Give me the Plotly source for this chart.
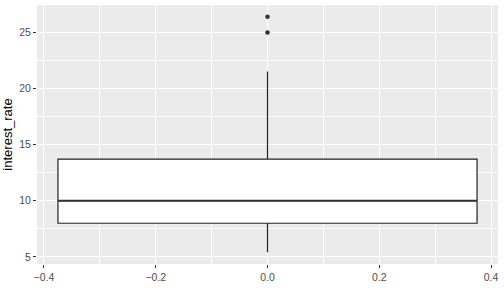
import plotly.graph_objects as go

# Data (interest_rate boxplot)
box_x = [0.0]
q1 = [8.0]
median = [10.0]
q3 = [13.7]
lower_fence = [5.42]
upper_fence = [21.5]
outliers = [24.97, 26.37]
box_width = 0.75

x_ticks = [-0.4, -0.2, 0.0, 0.2, 0.4]
y_ticks = [5, 10, 15, 20, 25]

dark = "#333333"

fig = go.Figure()
fig.add_trace(go.Box(
    x=box_x, q1=q1, median=median, q3=q3,
    lowerfence=lower_fence, upperfence=upper_fence,
    width=box_width, whiskerwidth=0,
    fillcolor="white", line=dict(color="#222222", width=1.2),
    boxpoints=False, showlegend=False, hoverinfo="skip",
))
# thicker median line as in ggplot2
fig.add_trace(go.Scatter(
    x=[box_x[0] - box_width / 2, box_x[0] + box_width / 2],
    y=[median[0], median[0]], mode="lines",
    line=dict(color=dark, width=2), showlegend=False, hoverinfo="skip",
))
fig.add_trace(go.Scatter(
    x=[box_x[0]] * len(outliers), y=outliers, mode="markers",
    marker=dict(color=dark, size=4.5), showlegend=False, hoverinfo="skip",
))

lo = min(lower_fence[0], min(outliers))
hi = max(upper_fence[0], max(outliers))
pad = 0.05 * (hi - lo)
xr = box_width * 1.1 / 2

fig.update_layout(
    width=504, height=288,
    margin=dict(l=34, r=6, t=5, b=21),
    paper_bgcolor="white", plot_bgcolor="#EBEBEB",
    font=dict(family="Liberation Sans, Arial, sans-serif"),
    xaxis=dict(
        range=[-xr, xr], tickvals=x_ticks, tickformat=".1f",
        showgrid=True, gridcolor="white", gridwidth=1.1,
        minor=dict(dtick=0.1, tick0=0, showgrid=True, gridcolor="white", gridwidth=0.5, ticklen=0),
        ticks="outside", ticklen=3, tickcolor=dark, tickwidth=1,
        tickfont=dict(size=10.5, color="#4D4D4D"),
        zeroline=False, showline=False,
    ),
    yaxis=dict(
        range=[lo - pad, hi + pad], tickvals=y_ticks,
        showgrid=True, gridcolor="white", gridwidth=1.1,
        minor=dict(dtick=2.5, tick0=0, showgrid=True, gridcolor="white", gridwidth=0.5, ticklen=0),
        ticks="outside", ticklen=3, tickcolor=dark, tickwidth=1,
        tickfont=dict(size=10.5, color="#4D4D4D"),
        title=dict(text="interest_rate", font=dict(size=13, color="black"), standoff=5),
        zeroline=False, showline=False,
    ),
)

fig.write_html("out.html")
